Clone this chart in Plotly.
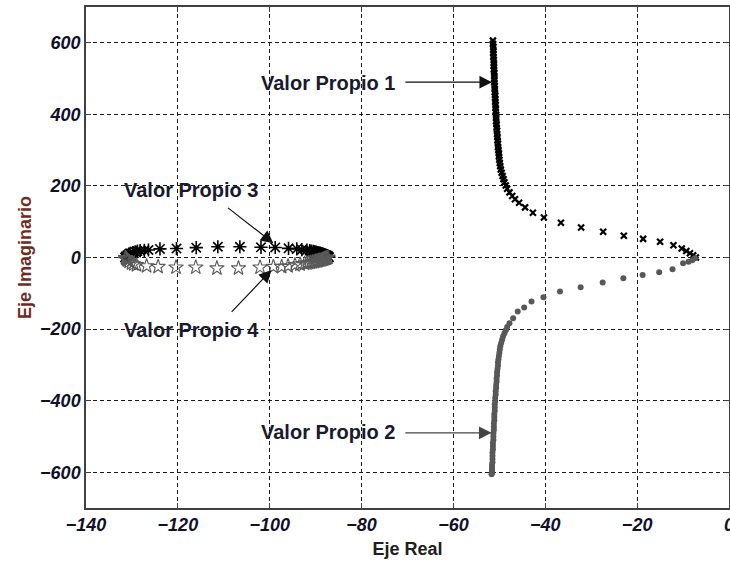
import plotly.graph_objects as go

# Eigenvalue trajectories (real part, imaginary part)
vp1_real = [-7.2, -7.8, -8.5, -9.3, -10.3, -12.1, -15.0, -18.7, -22.9, -27.4, -32.2, -36.6,
            -40.3, -42.7, -44.4, -45.7, -46.6, -47.2, -47.8, -48.3, -48.6, -48.9, -49.1, -49.3,
            -49.5, -49.7, -49.8, -49.9, -50.0, -50.1, -50.1, -50.2, -50.3, -50.3, -50.4, -50.4,
            -50.5, -50.5, -50.6, -50.6, -50.7, -50.7, -50.7, -50.8, -50.8, -50.8, -50.9, -50.9,
            -50.9, -51.0, -51.0, -51.0, -51.1, -51.1, -51.1, -51.1, -51.2, -51.2, -51.2, -51.2,
            -51.3, -51.3, -51.3, -51.3, -51.4, -51.4]
vp1_imag = [0, 6, 12, 18, 25, 34, 44, 52, 61, 72, 84, 97,
            112, 125, 140, 153, 163, 172, 182, 192, 201, 210, 219, 228,
            237, 246, 255, 264, 273, 282, 291, 300, 309, 318, 327, 336,
            345, 354, 363, 372, 381, 390, 399, 408, 417, 426, 435, 444,
            453, 462, 471, 480, 489, 498, 507, 516, 525, 534, 543, 552,
            561, 570, 579, 588, 597, 606]

vp2_real = [-7.4, -8.0, -8.8, -10.0, -12.3, -15.2, -18.8, -23.0, -27.5, -32.3, -36.8, -40.4,
            -43.0, -44.6, -46.0, -47.0, -47.8, -48.3, -48.6, -48.9, -49.2, -49.4, -49.6, -49.8,
            -49.9, -50.0, -50.1, -50.2, -50.3, -50.3, -50.4, -50.5, -50.5, -50.6, -50.6, -50.7,
            -50.7, -50.8, -50.8, -50.9, -50.9, -51.0, -51.0, -51.0, -51.1, -51.1, -51.1, -51.2,
            -51.2, -51.2, -51.3, -51.3, -51.3, -51.4, -51.4, -51.4, -51.5, -51.5, -51.5, -51.5,
            -51.6, -51.6, -51.6, -51.6, -51.6, -51.7]
vp2_imag = [-2, -8, -12, -16, -33, -41, -49, -58, -70, -83, -95, -111,
            -123, -140, -151, -170, -184, -194, -203, -212, -221, -230, -239, -248,
            -257, -266, -275, -284, -293, -302, -311, -320, -329, -338, -347, -356,
            -365, -374, -383, -392, -401, -410, -419, -428, -437, -446, -455, -464,
            -473, -482, -491, -500, -509, -518, -527, -536, -545, -554, -563, -572,
            -580, -587, -593, -598, -602, -606]

vp3_real = [-131.5, -131.3, -131.0, -130.7, -130.4, -129.8, -129.3, -128.8, -128.2, -127.3,
            -126.4, -123.9, -120.3, -116.0, -111.3, -106.5, -101.9, -98.8, -95.9, -94.1,
            -93.0, -91.9, -91.3, -90.9, -90.5, -90.2, -89.9, -89.6, -89.3, -89.0, -88.8,
            -88.5, -88.3, -88.1, -87.9, -87.7, -87.5, -87.4, -87.3, -87.2, -87.1]
vp3_imag = [0, 3, 6, 9, 11.6, 14, 16, 18, 19, 20,
            21, 24, 25, 27.5, 30, 30, 28.5, 28, 25.6, 24,
            22, 21, 19.5, 18, 17, 16, 15, 14, 13, 12, 11,
            10, 9, 8, 7, 6, 5, 4, 3, 2, 0.5]

vp4_real = [-131.4, -131.3, -131.1, -130.9, -130.6, -130.1, -129.6, -129.0, -126.8, -124.3,
            -120.4, -116.1, -111.5, -106.8, -102.1, -99.2, -97.4, -96.0, -94.5, -93.4,
            -92.4, -91.9, -91.5, -91.1, -90.7, -90.3, -90.0, -89.7, -89.4, -89.1, -88.8,
            -88.5, -88.3, -88.1, -87.9, -87.7, -87.5, -87.3]
vp4_imag = [-1, -3, -5.5, -8, -11.7, -16, -18.5, -21, -24, -26,
            -27.6, -27.6, -30, -30, -27.6, -26, -26, -24, -21, -19,
            -17, -16, -15, -14, -13, -12, -11, -10, -9, -8, -7,
            -6, -5, -4, -3, -2, -1, 0]

# Labels and arrows
labels = ["Valor Propio 1", "Valor Propio 2", "Valor Propio 3", "Valor Propio 4"]
label_x = [-72.2, -72.2, -132.2, -132.2]
label_y = [488, -488, 188, -203]
label_anchor = ["right", "right", "left", "left"]
arrow_tail_x = [-70.8, -70.8, -109.4, -108.6]
arrow_tail_y = [490, -490, 142, -156]
arrow_tip_x = [-51.6, -51.7, -99.2, -99.6]
arrow_tip_y = [490, -490, 40, -35]
arrow_colors = ["#111111", "#444444", "#111111", "#111111"]

x_ticks = [-140, -120, -100, -80, -60, -40, -20, 0]
y_ticks = [-600, -400, -200, 0, 200, 400, 600]

FONT = "Liberation Sans, Arial, sans-serif"

fig = go.Figure()

fig.add_trace(go.Scatter(
    x=vp1_real, y=vp1_imag, mode="markers", name="Valor Propio 1",
    marker=dict(symbol="x-thin-open", size=6, color="#000000",
                line=dict(width=2.2, color="#000000"))))
fig.add_trace(go.Scatter(
    x=vp2_real, y=vp2_imag, mode="markers", name="Valor Propio 2",
    marker=dict(symbol="circle", size=6, color="#585858", line=dict(width=0))))
fig.add_trace(go.Scatter(
    x=vp3_real, y=vp3_imag, mode="markers", name="Valor Propio 3",
    marker=dict(symbol="asterisk-open", size=11, color="#000000",
                line=dict(width=1.6, color="#000000"))))
fig.add_trace(go.Scatter(
    x=vp4_real, y=vp4_imag, mode="markers", name="Valor Propio 4",
    marker=dict(symbol="star-open", size=11, color="#5a5a5a",
                line=dict(width=1.1, color="#5a5a5a"))))

for i, txt in enumerate(labels):
    fig.add_annotation(
        x=label_x[i], y=label_y[i], xref="x", yref="y", text=txt,
        showarrow=False, xanchor=label_anchor[i], yanchor="middle",
        font=dict(family=FONT, size=20, color="#1a1a2e", weight="bold"))
    fig.add_annotation(
        x=arrow_tip_x[i], y=arrow_tip_y[i], ax=arrow_tail_x[i], ay=arrow_tail_y[i],
        xref="x", yref="y", axref="x", ayref="y", text="", showarrow=True,
        arrowhead=2, arrowsize=2.1, arrowwidth=1.2, arrowcolor=arrow_colors[i])

axis_common = dict(
    showline=True, linecolor="#404040", linewidth=1.5, mirror="ticks",
    ticks="inside", ticklen=5, tickcolor="#404040", tickwidth=1,
    showgrid=True, gridcolor="#1a1a1a", gridwidth=1, griddash="4px,3px",
    zeroline=False, automargin=False, ticklabeloverflow="allow",
    tickfont=dict(family=FONT, size=18, color="#10102a", weight="bold", style="italic"),
)

fig.update_xaxes(
    range=[-140, 0], tickvals=x_ticks,
    title=dict(text="Eje Real", standoff=8,
               font=dict(family=FONT, size=18, color="#202020", weight="bold")),
    **axis_common)
fig.update_yaxes(
    range=[-700, 700], tickvals=y_ticks,
    title=dict(text="Eje Imaginario", standoff=4,
               font=dict(family=FONT, size=18, color="#6e2c1e", weight="bold")),
    **axis_common)

fig.update_layout(
    width=730, height=566,
    margin=dict(l=86, r=1, t=7, b=58),
    paper_bgcolor="#ffffff", plot_bgcolor="#ffffff",
    showlegend=False,
)

fig.write_html("out.html")
